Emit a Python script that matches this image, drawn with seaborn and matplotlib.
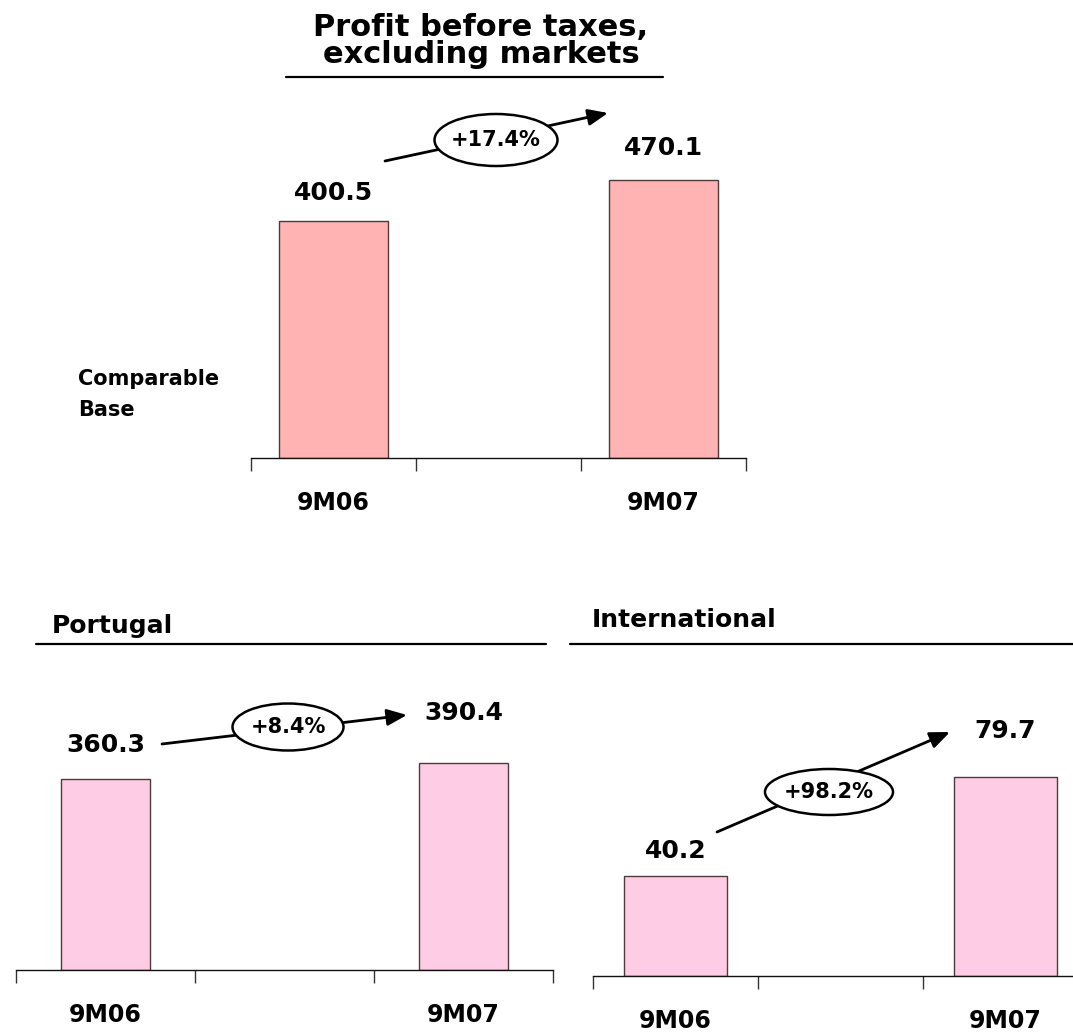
import matplotlib
matplotlib.use("Agg")
import matplotlib.pyplot as plt
import seaborn as sns
import pandas as pd
from matplotlib import font_manager
from matplotlib.lines import Line2D
from matplotlib.patches import Ellipse, FancyArrowPatch, ArrowStyle

W, H = 1073, 1036

# data
periods = ["9M06", "9M07"]
slots = ["9M06", " ", "9M07"]          # middle slot left empty, as on the slide

total_values = [400.5, 470.1]
portugal_values = [360.3, 390.4]
intl_values = [40.2, 79.7]

growth_labels = ["+17.4%", "+8.4%", "+98.2%"]
panel_titles = ["Profit before taxes,\nexcluding markets", "Portugal", "International"]
side_note = ["Comparable", "Base"]

TOP_COLOR = "#FFB3B3"
SUB_COLOR = "#FFCCE5"
EDGE = "#4d3b3b"

sns.set_theme(style="white")
plt.rcParams["font.family"] = ["DejaVu Sans"]
plt.rcParams["font.weight"] = "bold"
plt.rcParams["text.color"] = "black"
plt.rcParams["xtick.color"] = "black"
plt.rcParams["xtick.labelcolor"] = "black"

TICK_FONT = dict(family="DejaVu Sans", size=17, weight="bold")


def fx(px):
    return px / W


def fy(py):
    return 1 - py / H


fig = plt.figure(figsize=(W / 100, H / 100), dpi=100)
fig.patch.set_facecolor("white")

# panel layout in pixels: left, right, baseline, top, px per unit, bar width, colour, label offsets
panels = [
    (total_values, 251, 746, 458, 100, 0.592, 0.66, TOP_COLOR, [28, 32]),
    (portugal_values, 16, 553, 970, 660, 0.530, 0.50, SUB_COLOR, [34, 50]),
    (intl_values, 593, 1088, 976, 660, 2.50, 0.62, SUB_COLOR, [24, 46]),
]

for values, left, right, base, top, ppu, bw, color, dys in panels:
    ax = fig.add_axes([fx(left), fy(base), (right - left) / W, (base - top) / H])
    ax.patch.set_alpha(0)
    df = pd.DataFrame({"period": periods, "value": values})
    sns.barplot(data=df, x="period", y="value", order=slots, color=color,
                saturation=1, width=bw, edgecolor=EDGE, linewidth=1,
                errorbar=None, ax=ax)
    ax.set_xlim(-0.5, 2.5)
    ax.set_ylim(0, (base - top) / ppu)
    for p, v, dy in zip(periods, values, dys):
        ax.annotate(f"{v:.1f}", (slots.index(p), v), xytext=(0, dy),
                    textcoords="offset pixels", ha="center", va="center",
                    fontsize=18, fontweight="bold", color="black",
                    annotation_clip=False)
    for side in ["left", "top", "right"]:
        ax.spines[side].set_visible(False)
    ax.spines["bottom"].set_color("#111111")
    ax.spines["bottom"].set_linewidth(1)
    ax.set_yticks([])
    ax.set_xlabel("")
    ax.set_ylabel("")
    ax.set_xticks([-0.5, 0.5, 1.5, 2.5], [""] * 4)
    ax.set_xticks([slots.index(p) for p in periods], periods, minor=True)
    ax.tick_params(axis="x", which="major", length=9, width=1, color="#333333",
                   direction="out", bottom=True)
    ax.tick_params(axis="x", which="minor", length=0, pad=24, labelcolor="black")
    for lab in ax.get_xticklabels(minor=True):
        lab.set_fontproperties(font_manager.FontProperties(**TICK_FONT))
        lab.set_color("black")

# titles and rules
fig.text(fx(481), fy(41), panel_titles[0], ha="center", va="center",
         fontsize=22, fontweight="bold", linespacing=0.95, multialignment="center")
fig.add_artist(Line2D([fx(286), fx(663)], [fy(77), fy(77)], color="black", lw=1.6))
fig.text(fx(52), fy(633), panel_titles[1], ha="left", va="baseline", fontsize=18, fontweight="bold")
fig.add_artist(Line2D([fx(36), fx(546)], [fy(644), fy(644)], color="black", lw=1.6))
fig.text(fx(592), fy(627), panel_titles[2], ha="left", va="baseline", fontsize=18, fontweight="bold")
fig.add_artist(Line2D([fx(570), fx(1073)], [fy(644), fy(644)], color="black", lw=1.6))

fig.text(fx(78), fy(385), side_note[0], ha="left", va="baseline", fontsize=15, fontweight="bold")
fig.text(fx(78), fy(416), side_note[1], ha="left", va="baseline", fontsize=15, fontweight="bold")

# growth arrows with ellipse badges
badges = [
    ((385, 161), (608, 113), (496, 140), (123, 52)),
    ((162, 744), (407, 715), (288, 727), (111, 47)),
    ((717, 832), (950, 732), (829, 792), (128, 46)),
]
style = ArrowStyle("-|>", head_length=1.2, head_width=0.5)
for label, (start, end, center, size) in zip(growth_labels, badges):
    arrow = FancyArrowPatch((fx(start[0]), fy(start[1])), (fx(end[0]), fy(end[1])),
                            transform=fig.transFigure, arrowstyle=style,
                            mutation_scale=10, lw=2.0, color="black",
                            shrinkA=0, shrinkB=0, zorder=2)
    fig.add_artist(arrow)
    ell = Ellipse((fx(center[0]), fy(center[1])), size[0] / W, size[1] / H,
                  transform=fig.transFigure, facecolor="white", edgecolor="black",
                  lw=1.8, zorder=3)
    fig.add_artist(ell)
    fig.text(fx(center[0]), fy(center[1]), label, ha="center", va="center",
             fontsize=15, fontweight="bold", zorder=4, color="black")

fig.savefig("out.png", dpi=100, facecolor="white")
